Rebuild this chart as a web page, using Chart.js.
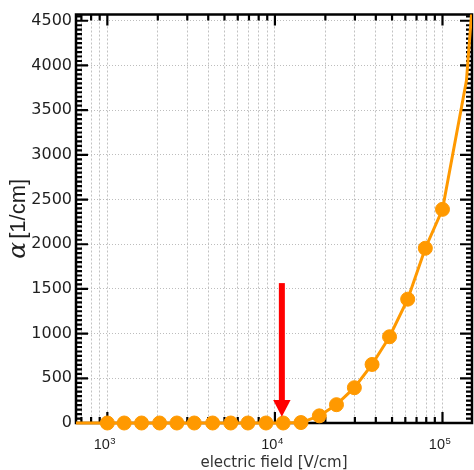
<!DOCTYPE html>
<html><head><meta charset="utf-8">
<script src="https://cdn.jsdelivr.net/npm/chart.js@4.4.1/dist/chart.umd.min.js"></script>
<style>html,body{margin:0;padding:0;background:#fff;}canvas{display:block;}</style>
</head><body>
<canvas id="c" width="474" height="470"></canvas>
<script>
// ---- data ----
const fieldValues = [1000, 1260, 1600, 2050, 2600, 3300, 4250, 5450, 6900, 8850,
                     11200, 14300, 18400, 23300, 29800, 38000, 48300, 62000, 79000, 100000];
const alphaValues = [0, 0, 0, 0, 0, 0, 0, 0, 0, 0,
                     0, 5, 80, 205, 395, 655, 965, 1385, 1955, 2390];
// curve continues (no markers) outside the marked points
const curveLeadField = [600];
const curveLeadAlpha = [0];
const curveTailField = [139000, 155000];
const curveTailAlpha = [3830, 5000];

const yTickValues = [0, 500, 1000, 1500, 2000, 2500, 3000, 3500, 4000, 4500];
const yTickLabels = ['0', '500', '1000', '1500', '2000', '2500', '3000', '3500', '4000', '4500'];
const xMajorTicks = [1000, 10000, 100000];
const xTickBase = ['10', '10', '10'];
const xTickExp = ['3', '4', '5'];
const xMinorTicks = [700, 800, 900, 2000, 3000, 4000, 5000, 6000, 7000, 8000, 9000,
                     20000, 30000, 40000, 50000, 60000, 70000, 80000, 90000];
const xTitle = 'electric field [V/cm]';
const yTitleSymbol = 'α';
const yTitleUnit = '[1/cm]';
const arrowField = 11000;
const arrowFromAlpha = 1565;
const arrowToAlpha = 70;

// ---- build chart data ----
const allField = curveLeadField.concat(fieldValues, curveTailField);
const allAlpha = curveLeadAlpha.concat(alphaValues, curveTailAlpha);
const pts = allField.map((f, i) => ({x: f, y: allAlpha[i]}));
const radii = allField.map((f, i) => (i < curveLeadField.length || i >= curveLeadField.length + fieldValues.length) ? 0 : 7);

const ORANGE = '#ff9900';
const TXT = '#1f1f1f';

const framePlugin = {
  id: 'frame',
  beforeDatasetsDraw(chart) {
    const {ctx, chartArea: a, scales: {x, y}} = chart;
    ctx.save();
    ctx.strokeStyle = '#000';
    ctx.lineWidth = 2.2;
    ctx.beginPath();
    const yMax = y.max;
    for (let v = 0; v <= yMax; v += 50) {
      const py = y.getPixelForValue(v);
      const len = (v % 500 === 0) ? 12 : 6;
      ctx.moveTo(a.left, py); ctx.lineTo(a.left + len, py);
      ctx.moveTo(a.right, py); ctx.lineTo(a.right - len, py);
    }
    xMajorTicks.forEach(v => {
      const px = x.getPixelForValue(v);
      ctx.moveTo(px, a.bottom); ctx.lineTo(px, a.bottom - 11);
      ctx.moveTo(px, a.top); ctx.lineTo(px, a.top + 11);
    });
    xMinorTicks.forEach(v => {
      const px = x.getPixelForValue(v);
      ctx.moveTo(px, a.bottom); ctx.lineTo(px, a.bottom - 6);
      ctx.moveTo(px, a.top); ctx.lineTo(px, a.top + 6);
    });
    ctx.stroke();
    ctx.lineWidth = 2.5;
    ctx.strokeRect(a.left, a.top, a.right - a.left, a.bottom - a.top);
    ctx.restore();
  },
  afterDraw(chart) {
    const {ctx, chartArea: a, scales: {x, y}} = chart;
    ctx.save();
    // x tick labels with superscript exponents
    ctx.fillStyle = TXT;
    ctx.textBaseline = 'alphabetic';
    xMajorTicks.forEach((v, i) => {
      const px = x.getPixelForValue(v);
      ctx.font = '14.5px "Liberation Sans"';
      ctx.textAlign = 'right';
      ctx.fillText(xTickBase[i], px + 2.5, 449);
      ctx.font = '9.5px "Liberation Sans"';
      ctx.textAlign = 'left';
      ctx.fillText(xTickExp[i], px + 3, 443.5);
    });
    // y title
    ctx.save();
    ctx.translate(24.5, (a.top + a.bottom) / 2);
    ctx.rotate(-Math.PI / 2);
    const f1 = 'italic 25px "DejaVu Serif"';
    const f2 = '22px "Liberation Sans"';
    ctx.font = f1; const w1 = ctx.measureText(yTitleSymbol).width;
    ctx.font = f2; const w2 = ctx.measureText(yTitleUnit).width;
    const gap = 3;
    const start = -(w1 + gap + w2) / 2;
    ctx.textAlign = 'left';
    ctx.font = f1; ctx.fillText(yTitleSymbol, start, 0);
    ctx.font = f2; ctx.fillText(yTitleUnit, start + w1 + gap, 0);
    ctx.restore();
    // red arrow
    const ax = x.getPixelForValue(arrowField);
    const y0 = y.getPixelForValue(arrowFromAlpha);
    const y1 = y.getPixelForValue(arrowToAlpha);
    const headLen = 16.7, headHalf = 8.7;
    ctx.fillStyle = '#ff0000';
    ctx.fillRect(ax - 3, y0, 6, (y1 - headLen) - y0 + 0.5);
    ctx.beginPath();
    ctx.moveTo(ax - headHalf, y1 - headLen);
    ctx.lineTo(ax + headHalf, y1 - headLen);
    ctx.lineTo(ax, y1);
    ctx.closePath();
    ctx.fill();
    ctx.restore();
  }
};

new Chart(document.getElementById('c'), {
  type: 'line',
  data: {
    datasets: [{
      data: pts,
      borderColor: ORANGE,
      backgroundColor: ORANGE,
      borderWidth: 3,
      pointRadius: radii,
      pointHoverRadius: radii,
      pointBackgroundColor: ORANGE,
      pointBorderColor: ORANGE,
      pointBorderWidth: 1,
      tension: 0,
      fill: false,
      clip: {left: 0, top: 0, right: 0, bottom: 12}
    }]
  },
  options: {
    responsive: false,
    devicePixelRatio: 1,
    animation: false,
    events: [],
    layout: {padding: {top: 14.5, right: 2, left: 0, bottom: 0}},
    plugins: {legend: {display: false}, tooltip: {enabled: false}},
    scales: {
      x: {
        type: 'logarithmic',
        position: 'bottom',
        min: 650,
        max: 150000,
        afterBuildTicks: s => { s.ticks = xMinorTicks.concat(xMajorTicks).sort((p, q) => p - q).map(v => ({value: v})); },
        afterFit: s => { s.height = 47; },
        ticks: {display: false},
        grid: {color: '#c2c2c2', lineWidth: 1, drawTicks: false},
        border: {display: false, dash: [2, 2]},
        title: {display: true, text: xTitle, color: '#333',
                font: {family: 'DejaVu Sans', size: 15, lineHeight: '14px'},
                padding: {top: 0, bottom: 0}}
      },
      y: {
        type: 'linear',
        position: 'left',
        min: 0,
        max: 4570,
        afterBuildTicks: s => { s.ticks = yTickValues.map(v => ({value: v})); },
        afterFit: s => { s.width = 76; },
        ticks: {
          color: TXT,
          padding: 4,
          font: {family: 'DejaVu Sans', size: 16},
          callback: (v) => { const i = yTickValues.indexOf(v); return i >= 0 ? yTickLabels[i] : ''; }
        },
        grid: {color: '#bdbdbd', lineWidth: 1, drawTicks: false},
        border: {display: false, dash: [1, 2]}
      }
    }
  },
  plugins: [framePlugin]
});
</script>
</body></html>
